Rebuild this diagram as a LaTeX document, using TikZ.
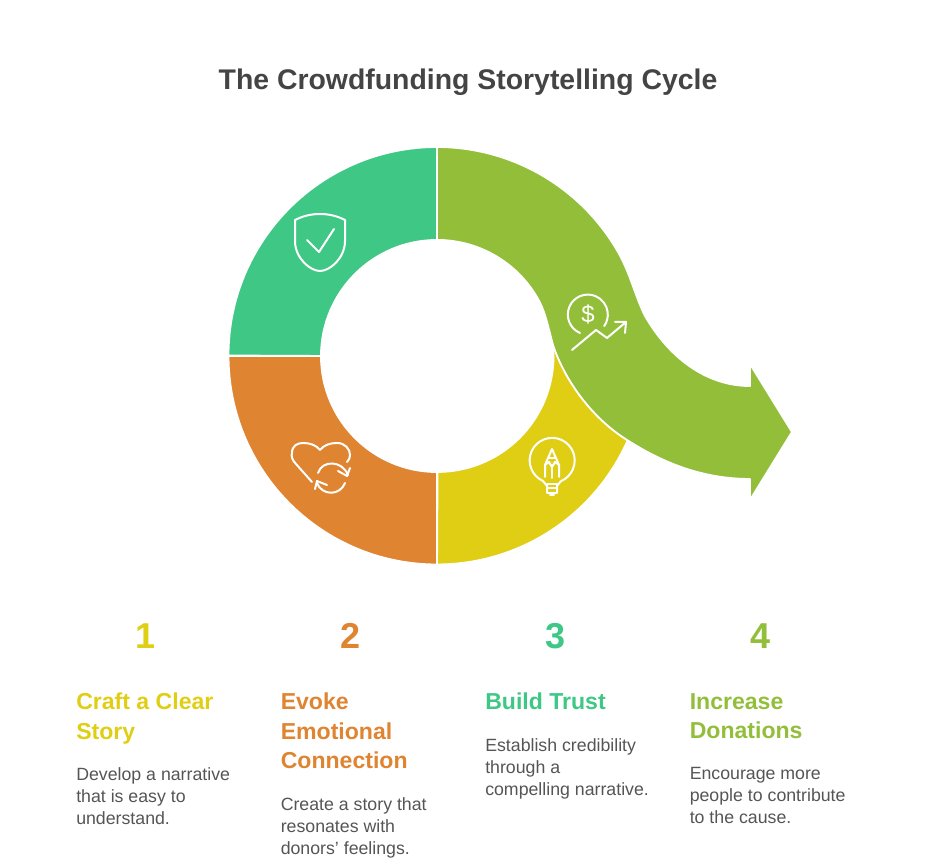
\documentclass[tikz,border=0pt]{standalone}
\usepackage{fontspec}
\setmainfont{Liberation Sans}
\usetikzlibrary{positioning}

\definecolor{cyellow}{HTML}{E0CE15}
\definecolor{corange}{HTML}{DF8430}
\definecolor{cteal}{HTML}{3EC785}
\definecolor{clime}{HTML}{92BE3A}
\definecolor{ctitle}{HTML}{444444}
\definecolor{cbody}{HTML}{555555}

\newcommand{\lastdepth}{\rule[-6.6pt]{0pt}{6.6pt}}

\begin{document}
\begin{tikzpicture}[x=0.75pt, y=0.75pt]

% Define styles
\tikzstyle{segment} = [draw=white, line width=1.4pt, line join=round]
\tikzstyle{icon} = [draw=white, line width=1.5pt, line cap=round, line join=round]
\tikzstyle{titletext} = [text=ctitle, font={\fontsize{21.3}{25}\selectfont\bfseries}]
\tikzstyle{number} = [font={\fontsize{27}{30}\selectfont\bfseries}]
\tikzstyle{head} = [anchor=north west, inner sep=0pt, align=left, font={\fontsize{17.3}{22}\selectfont\bfseries}]
\tikzstyle{body} = [inner sep=0pt, align=left, text=cbody, font={\fontsize{13.3}{16.5}\selectfont}]

\def\ro{156.4pt}
\def\ri{87pt}

\path[use as bounding box] (0,0) rectangle (935,866);

% Ring segments
\fill[segment, fill=cteal] (437,719) arc[start angle=90, end angle=180, radius=\ro]
  -- (321,510) arc[start angle=180, end angle=90, radius=\ri] -- cycle;
\fill[segment, fill=corange] (228.5,510) arc[start angle=180, end angle=270, radius=\ro]
  -- (437,394) arc[start angle=270, end angle=180, radius=\ri] -- cycle;
\fill[segment, fill=cyellow] (437,301.5) arc[start angle=270, end angle=336, radius=\ro]
  -- (553,521) arc[start angle=5.4, end angle=-90, radius=\ri] -- cycle;

% Arrow segment
\fill[segment, fill=clime] (437,719) arc[start angle=90, end angle=30.5, radius=\ro]
  .. controls (630,594) and (635,570) .. (645,550)
  .. controls (668,510) and (705,480) .. (750,480)
  -- (750,502) -- (792,434) -- (750,366) -- (750,387)
  .. controls (700,387) and (660,405) .. (627,426)
  .. controls (592,448) and (565,485) .. (553,521)
  .. controls (549,535) and (546,552) .. (539.4,564.5)
  arc[start angle=28, end angle=90, radius=\ri] -- cycle;

% Shield icon
\draw[icon] (320,652) .. controls (311,652) and (303,650) .. (295,646)
  -- (295,625) .. controls (295,608) and (310,595) .. (320,595)
  .. controls (330,595) and (345,608) .. (345,625) -- (345,646)
  .. controls (337,650) and (329,652) .. (320,652) -- cycle;
\draw[icon] (307,626) -- (319,614) -- (334,637);

% Heart icon
\draw[icon] (312,384) -- (296,402) .. controls (292,406) and (291,410) .. (292,413)
  .. controls (292,420) and (297,423) .. (303,423)
  .. controls (310,423) and (316,421) .. (320,416)
  .. controls (324,421) and (330,423) .. (337,423)
  .. controls (345,423) and (350,417) .. (350,411)
  .. controls (350,408) and (349,406) .. (347,404);
\draw[icon] (318,393) .. controls (322,406) and (342,406) .. (348,391);
\draw[icon] (338,395) -- (347,390) -- (350,398);
\draw[icon] (345,383) .. controls (340,370) and (322,370) .. (317,383);
\draw[icon] (315,377) -- (317,385) -- (327,381);

% Bulb icon
\draw[icon] (543,385) arc[start angle=246, end angle=-66, radius=16.9pt];
\draw[icon] (543,385) -- (547,380) -- (547,373.5) (561,385) -- (557,380) -- (557,373.5);
\draw[icon] (547,382) -- (557,382) (547,377.5) -- (557,377.5) (547,373) -- (557,373) (550,370.5) -- (554,370.5);
\draw[icon] (552,417) -- (545,401) -- (545,389) (552,417) -- (559,401) -- (559,389);
\draw[icon] (545,401) -- (549,404) -- (552,399) -- (555,404) -- (559,401);
\draw[icon] (552,399) -- (552,388) (548,408) -- (556,408);

% Dollar icon
\draw[icon] (580,533) arc[start angle=247, end angle=-35, radius=15pt];
\node[inner sep=0pt, text=white, font={\fontsize{18}{20}\selectfont}] (dollar) at (588,552) {\$};
\draw[icon] (572,516) -- (596,536) -- (607,528) -- (626,544);
\draw[icon] (615,544) -- (626,544) -- (625,533);

% Title and numbers
\node[titletext] (title) at (468,784) {The Crowdfunding Storytelling Cycle};
\node[number, text=cyellow] (num1) at (146,230) {1};
\node[number, text=corange] (num2) at (351,230) {2};
\node[number, text=cteal] (num3) at (556,230) {3};
\node[number, text=clime] (num4) at (761,230) {4};

% Headings
\node[head, text=cyellow] (head1) at (76,173) {Craft a Clear\\Story\lastdepth};
\node[head, text=corange] (head2) at (280.5,173) {Evoke\\Emotional\\Connection\lastdepth};
\node[head, text=cteal] (head3) at (485,173) {Build Trust\lastdepth};
\node[head, text=clime] (head4) at (689.5,173) {Increase\\Donations\lastdepth};

% Descriptions
\node[body, below=14.4pt of head1.south west, anchor=north west] (body1) {Develop a narrative\\that is easy to\\understand.};
\node[body, below=14.4pt of head2.south west, anchor=north west] (body2) {Create a story that\\resonates with\\donors' feelings.};
\node[body, below=14.4pt of head3.south west, anchor=north west] (body3) {Establish credibility\\through a\\compelling narrative.};
\node[body, below=14.4pt of head4.south west, anchor=north west] (body4) {Encourage more\\people to contribute\\to the cause.};

\end{tikzpicture}
\end{document}
